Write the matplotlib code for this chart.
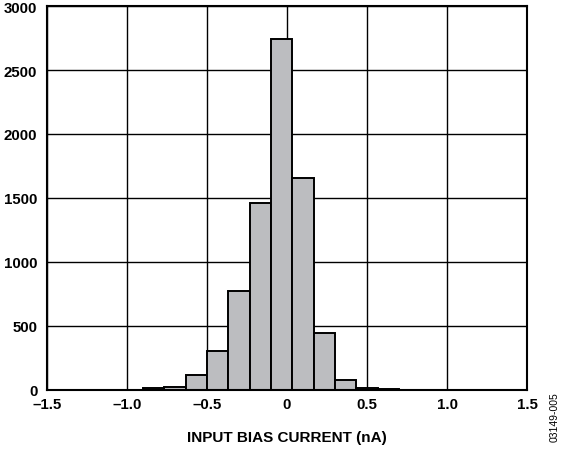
import numpy as np
import matplotlib; matplotlib.use("Agg")
import matplotlib.pyplot as plt

plt.rcParams["font.family"] = ["Liberation Sans", "DejaVu Sans"]
plt.rcParams["font.weight"] = "bold"

# histogram bins (nA) and counts
BIN_W = 2 / 15
BIN_LEFT = [-0.9 + i * BIN_W for i in range(12)]
COUNTS = [16, 26, 115, 308, 770, 1463, 2739, 1659, 443, 76, 16, 10]

XTICKS = [-1.5, -1.0, -0.5, 0, 0.5, 1.0, 1.5]
XTICKLABELS = ["\u20131.5", "\u20131.0", "\u20130.5", "0", "0.5", "1.0", "1.5"]
YTICKS = [0, 500, 1000, 1500, 2000, 2500, 3000]

fig = plt.figure(figsize=(5.67, 4.52), dpi=100)
ax = fig.add_axes([0.0829, 0.135, 0.8466, 0.8495])

ax.set_axisbelow(True)
ax.grid(True, color="black", lw=1.0)
ax.bar(BIN_LEFT, COUNTS, width=BIN_W, align="edge", color="#bcbdc0",
       edgecolor="black", lw=1.4, zorder=3)

ax.set_xlim(-1.5, 1.5); ax.set_ylim(0, 3000)
ax.set_xticks(XTICKS); ax.set_xticklabels(XTICKLABELS)
ax.set_yticks(YTICKS)
ax.tick_params(length=0, labelsize=10.8)
ax.tick_params(axis="y", pad=7)
ax.tick_params(axis="x", pad=5)
for s in ax.spines.values():
    s.set_linewidth(1.5); s.set_zorder(4)
for lab in ax.get_xticklabels() + ax.get_yticklabels():
    lab.set_fontweight("bold")

ax.set_xlabel("INPUT BIAS CURRENT (nA)", fontsize=11, fontweight="bold", labelpad=14)
fig.text(0.978, 0.077, "03149-005", rotation=90, fontsize=7.5, fontweight="normal",
         ha="center", va="center")

plt.savefig("out.png", dpi=100)
